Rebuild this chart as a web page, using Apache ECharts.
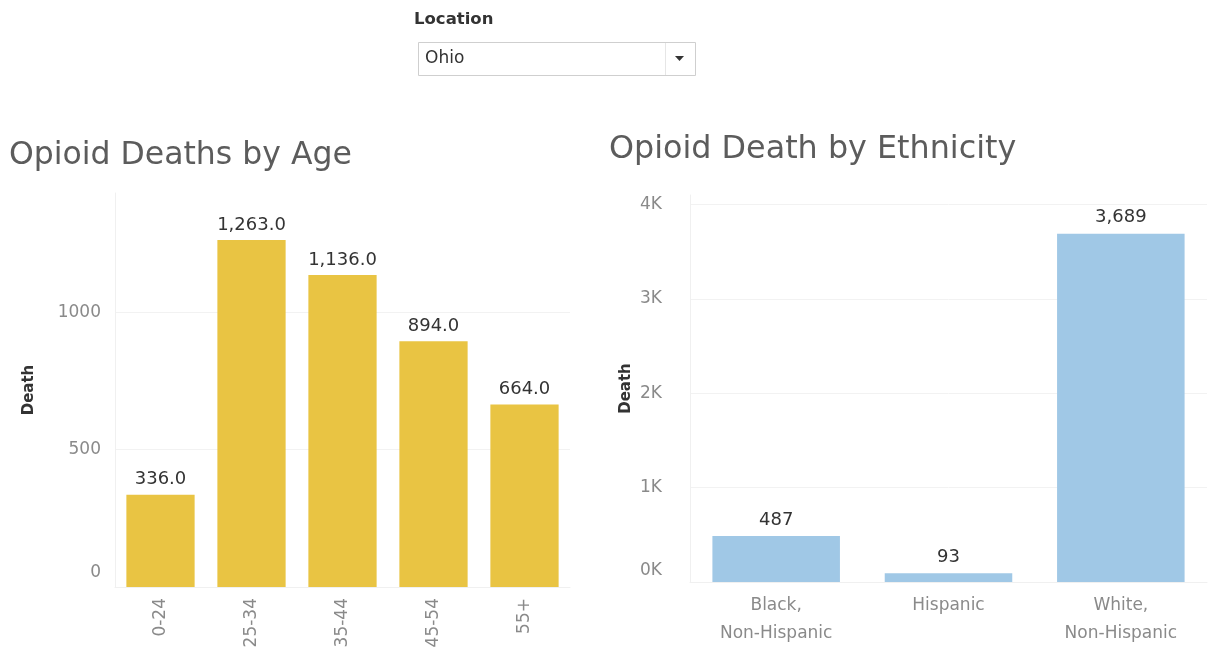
<!DOCTYPE html>
<html>
<head>
<meta charset="utf-8">
<script src="https://cdn.jsdelivr.net/npm/echarts@6/dist/echarts.min.js"></script>
<style>
html,body{margin:0;padding:0;background:#fff;}
#c{width:1217px;height:654px;}
</style>
</head>
<body>
<div id="c"></div>
<script>
// ---- data ----
const ageCategories = ['0-24', '25-34', '35-44', '45-54', '55+'];
const ageDeaths = [336, 1263, 1136, 894, 664];
const ethCategories = ['Black,\nNon-Hispanic', 'Hispanic', 'White,\nNon-Hispanic'];
const ethDeaths = [487, 93, 3689];
const locationValue = 'Ohio';

const FONT = '"DejaVu Sans", "Open Sans", sans-serif';
const fmt1 = v => v.toLocaleString('en-US', {minimumFractionDigits: 1, maximumFractionDigits: 1});
const fmt0 = v => v.toLocaleString('en-US');

const chart = echarts.init(document.getElementById('c'), null, {renderer: 'canvas'});

const axisLabelBase = {color: '#8a8a8a', fontFamily: FONT, fontSize: 17};

chart.setOption({
  animation: false,
  backgroundColor: '#fff',
  title: [
    {text: 'Opioid Deaths by Age', left: 4, top: 135,
     textStyle: {fontFamily: FONT, fontSize: 31.5, fontWeight: 'normal', color: '#5c5c5c'}},
    {text: 'Opioid Death by Ethnicity', left: 604, top: 129,
     textStyle: {fontFamily: FONT, fontSize: 31.8, fontWeight: 'normal', color: '#5c5c5c'}}
  ],
  grid: [
    {left: 115, right: 647, top: 193, bottom: 67},
    {left: 690, right: 10, top: 195, bottom: 72}
  ],
  xAxis: [
    {type: 'category', gridIndex: 0, data: ageCategories,
     axisLine: {show: true, lineStyle: {color: '#f0f0f0'}}, axisTick: {show: false},
     axisLabel: Object.assign({}, axisLabelBase, {rotate: 90, margin: 11})},
    {type: 'category', gridIndex: 1, data: ethCategories,
     axisLine: {show: true, lineStyle: {color: '#f0f0f0'}}, axisTick: {show: false},
     axisLabel: Object.assign({}, axisLabelBase, {margin: 10, lineHeight: 28})}
  ],
  yAxis: [
    {type: 'value', gridIndex: 0, min: 0, max: 1434, interval: 500,
     name: 'Death', nameLocation: 'middle', nameGap: 78,
     nameTextStyle: {fontFamily: FONT, fontSize: 15, fontWeight: 'bold', color: '#333'},
     axisLine: {show: true, lineStyle: {color: '#f0f0f0'}}, axisTick: {show: false},
     splitLine: {show: true, showMaxLine: false, lineStyle: {color: '#f2f2f2'}},
     axisLabel: Object.assign({}, axisLabelBase, {margin: 14, showMaxLabel: false,
       formatter: v => v === 0 ? '{lo|0}' : String(v),
       rich: {lo: {padding: [0, 0, 28, 0], color: '#8a8a8a', fontFamily: FONT, fontSize: 17}}})},
    {type: 'value', gridIndex: 1, min: 0, max: 4100, interval: 1000,
     name: 'Death', nameLocation: 'middle', nameGap: 56,
     nameTextStyle: {fontFamily: FONT, fontSize: 15, fontWeight: 'bold', color: '#333'},
     axisLine: {show: true, lineStyle: {color: '#f0f0f0'}}, axisTick: {show: false},
     splitLine: {show: true, showMaxLine: false, lineStyle: {color: '#f2f2f2'}},
     axisLabel: Object.assign({}, axisLabelBase, {margin: 28, showMaxLabel: false,
       formatter: v => v === 0 ? '{lo|0K}' : (v / 1000) + 'K',
       rich: {lo: {padding: [0, 0, 22, 0], color: '#8a8a8a', fontFamily: FONT, fontSize: 17}}})}
  ],
  series: [
    {type: 'bar', xAxisIndex: 0, yAxisIndex: 0, data: ageDeaths, barWidth: '75%',
     itemStyle: {color: '#E9C443'},
     label: {show: true, position: 'top', distance: 6, formatter: p => fmt1(p.value),
             fontFamily: FONT, fontSize: 18, color: '#333'}},
    {type: 'bar', xAxisIndex: 1, yAxisIndex: 1, data: ethDeaths, barWidth: '74%',
     itemStyle: {color: '#A0C8E6'},
     label: {show: true, position: 'top', distance: 7, formatter: p => fmt0(p.value),
             fontFamily: FONT, fontSize: 18, color: '#333'}}
  ],
  graphic: [
    {type: 'text', left: 414, top: 11,
     style: {text: 'Location', font: 'bold 16.5px ' + FONT, fill: '#333'}},
    {type: 'rect', shape: {x: 418.5, y: 42.5, width: 277, height: 33},
     style: {fill: '#fff', stroke: '#cfcfcf', lineWidth: 1}},
    {type: 'line', shape: {x1: 665.5, y1: 43, x2: 665.5, y2: 75},
     style: {stroke: '#e6e6e6', lineWidth: 1}},
    {type: 'text', left: 425, top: 50,
     style: {text: locationValue, font: '17px ' + FONT, fill: '#333'}},
    {type: 'polygon', shape: {points: [[675, 56], [684, 56], [679.5, 61]]},
     style: {fill: '#333'}}
  ]
});
</script>
</body>
</html>
